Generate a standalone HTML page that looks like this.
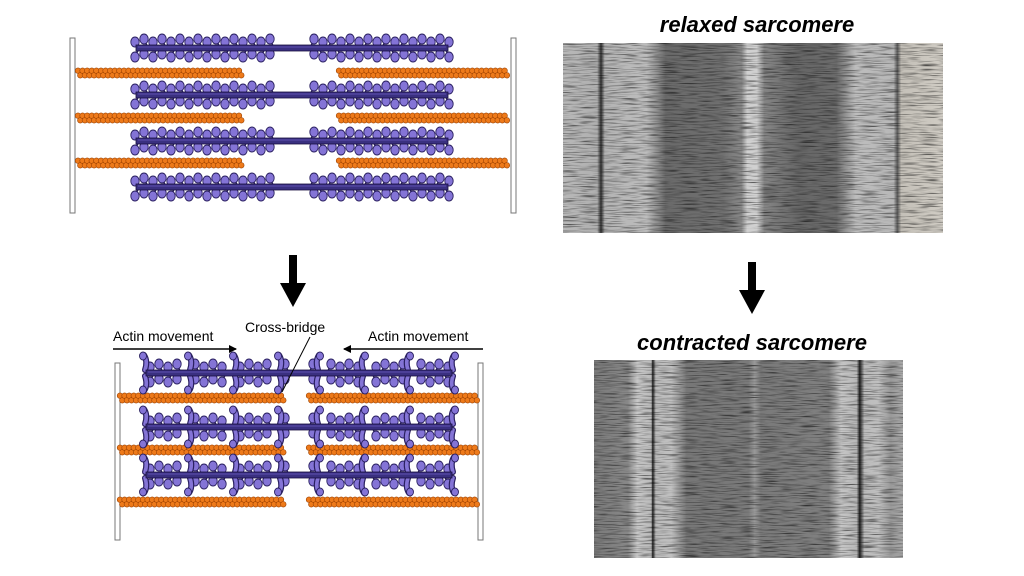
<!DOCTYPE html>
<html><head><meta charset="utf-8"><style>
html,body{margin:0;padding:0;background:#fff;width:1024px;height:576px;overflow:hidden}
svg{display:block}
text{font-family:"Liberation Sans",sans-serif}
</style></head><body>
<svg id="s" width="1024" height="576" viewBox="0 0 1024 576" xmlns="http://www.w3.org/2000/svg">
<defs>
<linearGradient id="g1" x1="0" x2="1" y1="0" y2="0">
<stop offset="0" stop-color="#b8b8b8"/>
<stop offset="0.09" stop-color="#b0b0b0"/>
<stop offset="0.10" stop-color="#303030"/>
<stop offset="0.11" stop-color="#b4b4b4"/>
<stop offset="0.22" stop-color="#bdbdbd"/>
<stop offset="0.27" stop-color="#6a6a6a"/>
<stop offset="0.42" stop-color="#707070"/>
<stop offset="0.47" stop-color="#8a8a8a"/>
<stop offset="0.485" stop-color="#d0d0d0"/>
<stop offset="0.51" stop-color="#d0d0d0"/>
<stop offset="0.53" stop-color="#858585"/>
<stop offset="0.62" stop-color="#666"/>
<stop offset="0.72" stop-color="#6c6c6c"/>
<stop offset="0.77" stop-color="#bdbdbd"/>
<stop offset="0.87" stop-color="#b8b8b8"/>
<stop offset="0.88" stop-color="#5a5a5a"/>
<stop offset="0.89" stop-color="#c4c0b8"/>
<stop offset="1" stop-color="#d0ccc4"/>
</linearGradient>
<linearGradient id="g2" x1="0" x2="1" y1="0" y2="0">
<stop offset="0" stop-color="#7a7a7a"/>
<stop offset="0.11" stop-color="#888"/>
<stop offset="0.14" stop-color="#c8c8c8"/>
<stop offset="0.185" stop-color="#bbb"/>
<stop offset="0.19" stop-color="#202020"/>
<stop offset="0.2" stop-color="#bbb"/>
<stop offset="0.25" stop-color="#c0c0c0"/>
<stop offset="0.3" stop-color="#777"/>
<stop offset="0.5" stop-color="#7a7a7a"/>
<stop offset="0.52" stop-color="#999"/>
<stop offset="0.54" stop-color="#7a7a7a"/>
<stop offset="0.76" stop-color="#808080"/>
<stop offset="0.8" stop-color="#c6c6c6"/>
<stop offset="0.85" stop-color="#b8b8b8"/>
<stop offset="0.86" stop-color="#202020"/>
<stop offset="0.875" stop-color="#bbb"/>
<stop offset="0.92" stop-color="#c0c0c0"/>
<stop offset="0.96" stop-color="#999"/>
<stop offset="1" stop-color="#aaa"/>
</linearGradient>
<filter id="nz" x="0" y="0" width="100%" height="100%">
<feTurbulence type="fractalNoise" baseFrequency="0.05 0.9" numOctaves="2" seed="3"/>
<feColorMatrix type="matrix" values="0 0 0 0 0  0 0 0 0 0  0 0 0 0 0  0 0 0 1.6 -0.75"/>
</filter>
<marker id="ah" markerWidth="8" markerHeight="8" refX="7" refY="4" orient="auto" markerUnits="userSpaceOnUse"><path d="M0,0 L8,4 L0,8 z" fill="#000"/></marker>
</defs>
<g id="d"></g>
<rect x="563" y="43" width="380" height="190" fill="url(#g1)"/>
<rect x="563" y="43" width="380" height="190" filter="url(#nz)"/>
<rect x="594" y="360" width="309" height="198" fill="url(#g2)"/>
<rect x="594" y="360" width="309" height="198" filter="url(#nz)"/>
<text x="757" y="32" font-size="22" font-weight="bold" font-style="italic" text-anchor="middle">relaxed sarcomere</text>
<text x="752" y="350" font-size="22" font-weight="bold" font-style="italic" text-anchor="middle">contracted sarcomere</text>
<rect x="289" y="255" width="8" height="30" fill="#000"/><path d="M280,283 L306,283 L293,307 z" fill="#000"/>
<rect x="748" y="262" width="8" height="30" fill="#000"/><path d="M739,290 L765,290 L752,314 z" fill="#000"/>
<text x="113" y="341" font-size="14">Actin movement</text>
<line x1="113" y1="349" x2="236" y2="349" stroke="#000" stroke-width="1.5" marker-end="url(#ah)"/>
<text x="368" y="341" font-size="14">Actin movement</text>
<line x1="483" y1="349" x2="344" y2="349" stroke="#000" stroke-width="1.5" marker-end="url(#ah)"/>
<text x="245" y="332" font-size="14">Cross-bridge</text>
<line x1="310" y1="337" x2="282" y2="392" stroke="#000" stroke-width="1"/>
</svg>
<script>
var g=document.getElementById('d'),h='';
function zline(x,y1,y2){h+='<rect x="'+x+'" y="'+y1+'" width="5" height="'+(y2-y1)+'" fill="#fff" stroke="#777" stroke-width="1"/>';}
function actin(x1,x2,y){for(var x=x1;x<=x2;x+=4.6){h+='<circle cx="'+x+'" cy="'+(y-2.3)+'" r="2.8" fill="#ee7a1a" stroke="#9a4000" stroke-width="0.6"/>';h+='<circle cx="'+(x+2.3)+'" cy="'+(y+2.3)+'" r="2.8" fill="#ee7a1a" stroke="#9a4000" stroke-width="0.6"/>';}}
function myosin(x1,x2,y,contr){var c=(x1+x2)/2;
var gap=contr?10:18;
var heads='',xb='';
for(var s=-1;s<=1;s+=2){for(var x=c+s*gap,i=0;s<0?x>=x1+3:x<=x2-3;x+=s*9,i++){
 var cb=contr&&i%5==1;
 for(var k=-1;k<=1;k+=2){
  if(cb){var p='M'+x+','+(y+k*3)+' q'+(-s*3)+','+(k*9)+' '+(s*1)+','+(k*15);
   xb+='<path d="'+p+'" stroke="#2a2060" stroke-width="6" fill="none" stroke-linecap="round"/><path d="'+p+'" stroke="#8474d6" stroke-width="3.6" fill="none" stroke-linecap="round"/>';
   xb+='<ellipse cx="'+(x+s*2)+'" cy="'+(y+k*17)+'" rx="3.5" ry="4" fill="#8474d6" stroke="#2a2060" stroke-width="0.9"/>';continue;}
  var dy=k*((i+(k>0?1:0))%2?6:9);
  heads+='<line x1="'+x+'" y1="'+y+'" x2="'+(x+s*3)+'" y2="'+(y+dy*0.7)+'" stroke="#2a2060" stroke-width="1.6"/>';
  heads+='<ellipse cx="'+(x+s*4)+'" cy="'+(y+dy)+'" rx="4.2" ry="5" fill="#8474d6" stroke="#2a2060" stroke-width="0.9"/>';
 }
}}
h+=heads+xb;
h+='<rect x="'+(x1+6)+'" y="'+(y-3)+'" width="'+(x2-x1-12)+'" height="6" fill="#3a3080" stroke="#1a1040" stroke-width="0.8"/>';
h+='<line x1="'+(x1+8)+'" y1="'+(y-1)+'" x2="'+(x2-8)+'" y2="'+(y-1)+'" stroke="#6a5cc0" stroke-width="0.8"/>';
}
zline(70,38,213);zline(511,38,213);
[73,118,163].forEach(function(y){actin(78,240,y);actin(339,508,y);});
[48,95,141,187].forEach(function(y){myosin(130,454,y,false);});
zline(115,363,540);zline(478,363,540);
[398,450,502].forEach(function(y){actin(120,282,y);actin(309,475,y);});
[373,427,475].forEach(function(y){myosin(140,458,y,true);});
g.innerHTML=h;
</script>
</body></html>
